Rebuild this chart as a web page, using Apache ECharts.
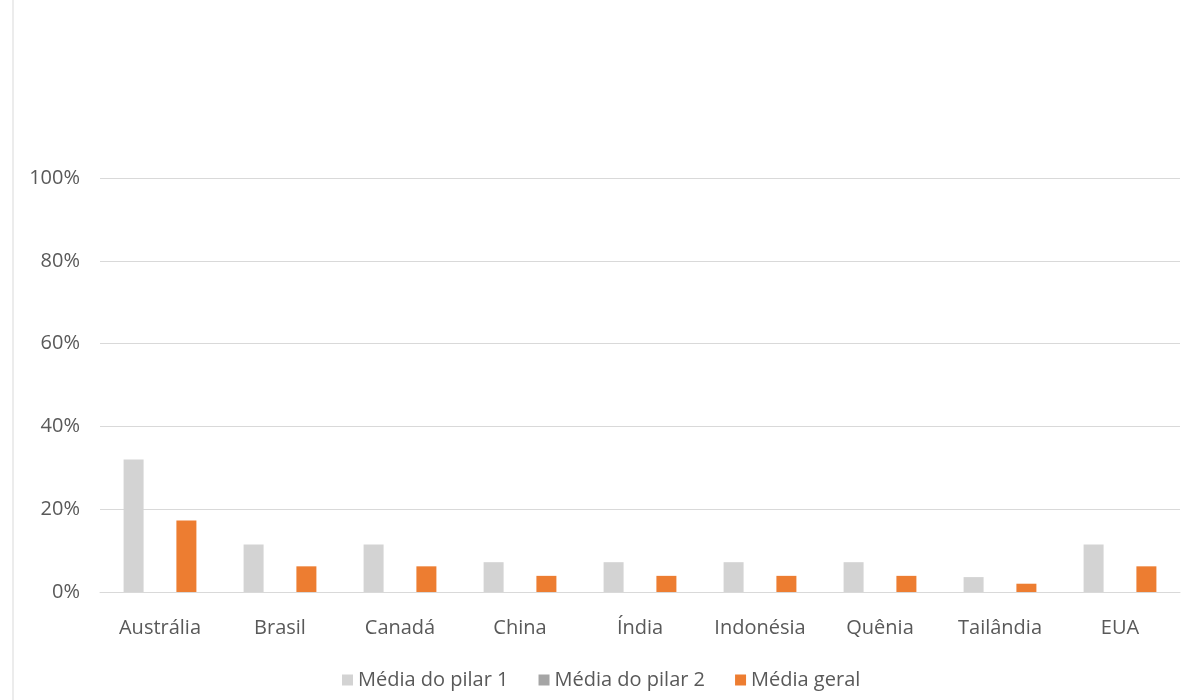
<!DOCTYPE html>
<html>
<head>
<meta charset="utf-8">
<script src="https://cdn.jsdelivr.net/npm/echarts@6/dist/echarts.min.js"></script>
<style>html,body{margin:0;padding:0;background:#fff;}#c{width:1196px;height:700px;}</style>
</head>
<body>
<div id="c"></div>
<script>
const categories = ['Austrália','Brasil','Canadá','China','Índia','Indonésia','Quênia','Tailândia','EUA'];
const seriesNames = ['Média do pilar 1','Média do pilar 2','Média geral'];
const pilar1 = [32.0, 11.5, 11.5, 7.2, 7.2, 7.2, 7.2, 3.6, 11.5];
const pilar2 = [0, 0, 0, 0, 0, 0, 0, 0, 0];
const geral = [17.3, 6.2, 6.2, 3.9, 3.9, 3.9, 3.9, 2.0, 6.2];
const yTicks = [0, 20, 40, 60, 80, 100];

const font = 'Open Sans';
const chart = echarts.init(document.getElementById('c'));
const mk = (name, data, color) => ({
  name, type: 'bar', data, barWidth: 20, barGap: '32%',
  itemStyle: { color }, emphasis: { disabled: true }
});
chart.setOption({
  animation: false,
  textStyle: { fontFamily: font },
  graphic: [{ type: 'line', shape: { x1: 13, y1: 0, x2: 13, y2: 700 }, style: { stroke: '#d9d9d9', lineWidth: 1 } }],
  grid: { left: 100, right: 16, top: 178, bottom: 108 },
  legend: {
    top: 665, left: 337, itemWidth: 11, itemHeight: 11, itemGap: 30,
    icon: 'rect',
    textStyle: { fontSize: 20, color: '#595959', fontFamily: font },
    data: seriesNames
  },
  xAxis: {
    type: 'category', data: categories,
    axisLine: { lineStyle: { color: '#d9d9d9' } },
    axisTick: { show: false },
    axisLabel: { fontSize: 20, color: '#595959', margin: 26, fontFamily: font }
  },
  yAxis: {
    type: 'value', min: yTicks[0], max: yTicks[yTicks.length - 1], interval: 20,
    axisLine: { show: false }, axisTick: { show: false },
    splitLine: { lineStyle: { color: '#d9d9d9' } },
    axisLabel: { fontSize: 20, color: '#595959', margin: 20, formatter: v => v + '%', fontFamily: font }
  },
  series: [
    mk(seriesNames[0], pilar1, '#d3d3d3'),
    mk(seriesNames[1], pilar2, '#a5a5a5'),
    mk(seriesNames[2], geral, '#ed7d31')
  ]
});
</script>
</body>
</html>
